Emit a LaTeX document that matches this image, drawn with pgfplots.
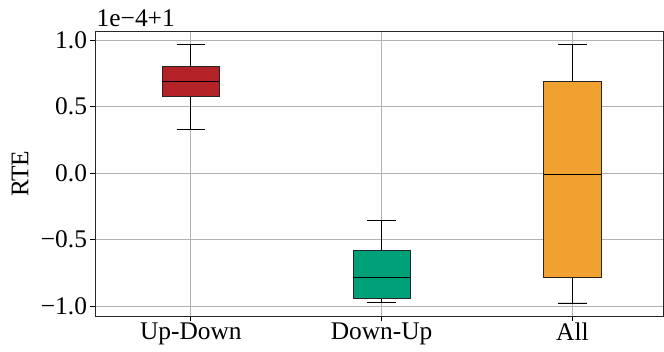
\documentclass[border=0pt]{standalone}
\usepackage{fontspec}
\setmainfont{Liberation Serif}
\usepackage{pgfplots}
\pgfplotsset{compat=1.18}
\usepgfplotslibrary{statistics}
\definecolor{cred}{RGB}{178,34,39}
\definecolor{cgreen}{RGB}{0,160,120}
\definecolor{corange}{RGB}{240,161,48}
\begin{document}
\begin{tikzpicture}[font=\fontsize{25.5}{30}\selectfont]
\begin{axis}[
  scale only axis, width=567.5bp, height=284.5bp,
  xmin=0.5, xmax=3.475, ymin=-1.075, ymax=1.064,
  xtick={1,2,3}, xticklabels={Up-Down,Down-Up,All},
  ytick={-1,-0.5,0,0.5,1},
  yticklabels={−1.0,−0.5,0.0,0.5,1.0},
  tick label style={font=\fontsize{25.5}{30}\selectfont},
  label style={font=\fontsize{25.5}{30}\selectfont},
  xticklabel style={yshift=2bp},
  grid=major, major grid style={color=black!30, line width=0.8bp},
  tick align=outside, tick pos=left, major tick length=5bp,
  every tick/.style={black, line width=0.8bp},
  axis line style={line width=0.8bp, black!85},
  ylabel={RTE},
  ylabel style={at={(axis description cs:-0.133,0.5)}, anchor=center},
  boxplot/draw direction=y,
  boxplot/box extend=0.3,
  boxplot/whisker extend=0.15,
  boxplot/every median/.style={black, line width=0.9bp},
  boxplot/every whisker/.style={black, line width=0.9bp},
  boxplot/every box/.style={draw=black!85, line width=0.9bp},
]
\addplot[boxplot prepared={lower whisker=0.33, lower quartile=0.577, median=0.69, upper quartile=0.80, upper whisker=0.967, draw position=1}, fill=cred, draw=black] coordinates {};
\addplot[boxplot prepared={lower whisker=-0.975, lower quartile=-0.942, median=-0.784, upper quartile=-0.584, upper whisker=-0.356, draw position=2}, fill=cgreen, draw=black] coordinates {};
\addplot[boxplot prepared={lower whisker=-0.977, lower quartile=-0.784, median=-0.01, upper quartile=0.69, upper whisker=0.967, draw position=3}, fill=corange, draw=black] coordinates {};
\end{axis}
\node[anchor=base west, inner sep=0, xshift=1bp, yshift=4.5bp] at (current axis.north west) {1e−4+1};
\pgfresetboundingbox
\path ([shift={(-95.5bp,-36bp)}]current axis.south west) rectangle ([shift={(1bp,31.5bp)}]current axis.north east);
\end{tikzpicture}
\end{document}
